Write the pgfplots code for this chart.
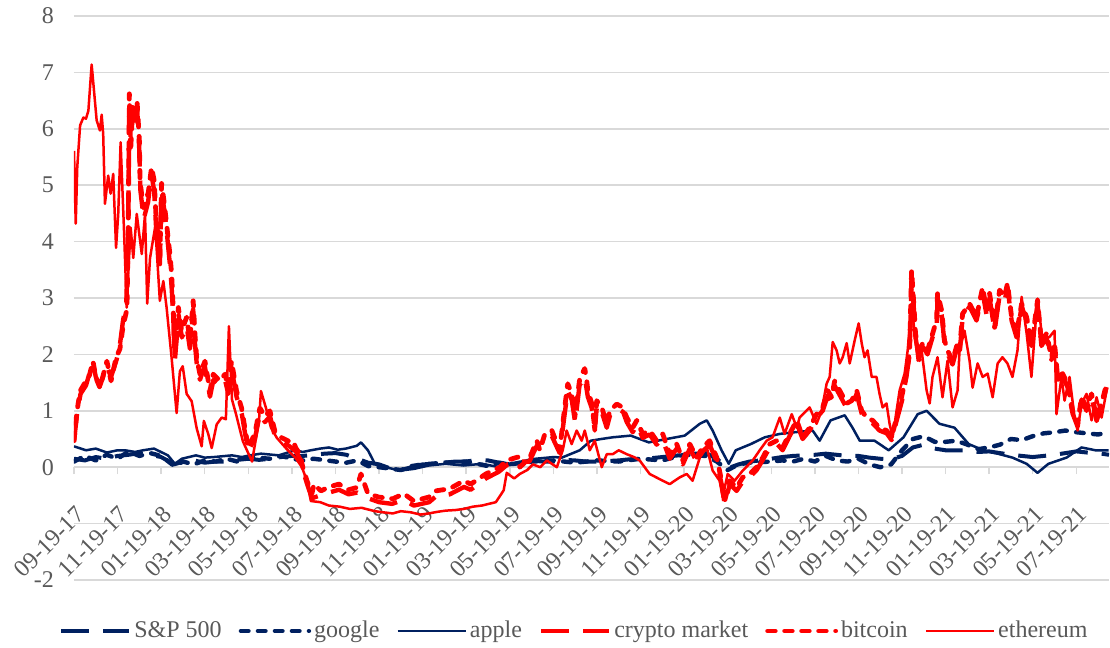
\documentclass[border=0pt]{standalone}
\usepackage{fontspec}
\setmainfont{Liberation Serif}
\usepackage{pgfplots}
\pgfplotsset{compat=1.18}
\definecolor{navy}{HTML}{002060}
\definecolor{cred}{HTML}{FF0000}
\definecolor{gridgray}{HTML}{D9D9D9}
\definecolor{txtgray}{HTML}{595959}
\begin{document}
\begin{tikzpicture}
\path[use as bounding box] (-37bp,-34bp) rectangle (518bp,290bp);
\begin{axis}[
  at={(0,0)}, anchor=south west,
  scale only axis, width=517.5bp, height=282bp,
  xmin=0, xmax=47.5, ymin=-2, ymax=8,
  axis x line*=middle, axis y line*=left,
  hide obscured x ticks=false, hide obscured y ticks=false,
  y axis line style={draw=none},
  x axis line style={draw=gridgray, line width=0.75bp},
  ytick={-2,-1,...,8}, yticklabels={-2,,0,1,2,3,4,5,6,7,8},
  ymajorgrids,
  grid style={draw=gridgray, line width=0.75bp},
  ytick style={draw=none},
  xtick={0,2,...,46},
  xticklabels={09-19-17,11-19-17,01-19-18,03-19-18,05-19-18,07-19-18,09-19-18,11-19-18,01-19-19,03-19-19,05-19-19,07-19-19,09-19-19,11-19-19,01-19-20,03-19-20,05-19-20,07-19-20,09-19-20,11-19-20,01-19-21,03-19-21,05-19-21,07-19-21},
  xtick style={draw=gridgray, line width=0.75bp},
  tick align=outside, major tick length=3.5bp,
  /pgf/number format/assume math mode=true,
  ticklabel style={font=\fontsize{12bp}{14bp}\selectfont, text=txtgray},
  xticklabel style={xshift=4bp, yshift=-17.5bp, rotate=45, anchor=east, inner sep=1bp},
  yticklabel style={xshift=-3bp},
  legend columns=6,
  legend style={draw=none, fill=none, at={(0.484,-0.0904)}, anchor=center,
    font=\fontsize{12bp}{14bp}\selectfont, text=txtgray,
    /tikz/every even column/.append style={column sep=7bp},
    nodes={inner sep=1.5bp}},
  legend image code/.code={\draw[#1] (0bp,0bp) -- (34bp,0bp);},
  every axis plot/.append style={line join=round},
]
% S&P 500
\addplot[navy, line width=2bp, dash pattern=on 14bp off 7bp] coordinates {
(0,0.15)(0.5,0.12)(1,0.18)(1.5,0.15)(2,0.2)(2.5,0.22)(3,0.25)(3.5,0.22)(4,0.18)(4.6,0.05)(5,0.1)(5.5,0.12)(6,0.08)(6.5,0.1)(7,0.1)(7.5,0.13)(8,0.15)(8.5,0.13)(9,0.15)(9.5,0.18)(10,0.2)(10.5,0.2)(11,0.22)(11.5,0.24)(12,0.25)(12.5,0.22)(13,0.15)(13.5,0.08)(14,0.05)(14.5,-0.02)(15,-0.05)(15.5,0.0)(16,0.05)(16.5,0.06)(17,0.08)(17.5,0.1)(18,0.1)(18.5,0.13)(19,0.12)(19.5,0.08)(20,0.05)(20.5,0.1)(21,0.12)(21.5,0.1)(22,0.1)(22.5,0.13)(23,0.12)(23.5,0.1)(24,0.1)(24.5,0.11)(25,0.12)(25.5,0.14)(26,0.15)(26.5,0.16)(27,0.18)(27.5,0.2)(28,0.22)(28.5,0.24)(29,0.25)(29.5,0.15)(30,-0.02)(30.5,0.05)(31,0.1)(31.5,0.12)(32,0.15)(32.5,0.18)(33,0.2)(33.5,0.21)(34,0.22)(34.5,0.24)(35,0.22)(35.5,0.2)(36,0.2)(36.5,0.17)(37,0.15)(37.5,0.14)(38,0.2)(38.5,0.35)(39,0.4)(39.5,0.33)(40,0.3)(40.5,0.3)(41,0.3)(41.5,0.27)(42,0.28)(42.5,0.25)(43,0.22)(43.5,0.2)(44,0.18)(44.5,0.2)(45,0.22)(45.5,0.25)(46,0.28)(46.5,0.26)(47,0.25)(47.5,0.22)};
\addlegendentry{S\&P 500}
% google
\addplot[navy, line width=2.2bp, line cap=round, dash pattern=on 3.8bp off 4.7bp] coordinates {
(0,0.1)(0.5,0.2)(1,0.12)(1.5,0.22)(2,0.15)(2.5,0.28)(3,0.2)(3.5,0.25)(4,0.2)(4.6,0.02)(5,0.1)(5.5,0.05)(6,0.12)(6.5,0.1)(7,0.15)(7.5,0.1)(8,0.18)(9,0.15)(9.5,0.2)(10,0.15)(10.5,0.12)(11,0.15)(12,0.1)(12.5,0.08)(13,0.12)(13.5,0.02)(14,0.0)(15,-0.05)(15.5,0.02)(16,0.05)(17,0.08)(18,0.1)(19,0.02)(19.5,0.08)(20,0.05)(21,0.1)(22,0.12)(23,0.08)(24,0.12)(25,0.1)(26,0.15)(27,0.12)(28,0.22)(29,0.2)(29.5,0.1)(30,-0.05)(30.5,0.05)(31,0.08)(32,0.1)(32.5,0.12)(33,0.1)(33.5,0.15)(34,0.1)(34.5,0.2)(35,0.12)(35.5,0.1)(36,0.15)(36.5,0.05)(37,0.0)(37.5,0.05)(38,0.3)(38.5,0.5)(39,0.55)(39.5,0.45)(40,0.45)(40.5,0.47)(41,0.4)(41.5,0.32)(42,0.35)(42.5,0.4)(43,0.5)(43.5,0.48)(44,0.55)(44.5,0.6)(45,0.62)(45.5,0.65)(46,0.62)(46.5,0.6)(47,0.58)(47.5,0.62)};
\addlegendentry{google}
% apple
\addplot[navy, line width=1.25bp] coordinates {
(0,0.37)(0.55,0.3)(1.0,0.33)(1.51,0.26)(2.0,0.3)(2.34,0.3)(2.8,0.27)(3.17,0.3)(3.67,0.33)(4.31,0.21)(4.63,0.06)(4.95,0.15)(5.6,0.21)(6.0,0.17)(6.42,0.18)(7.25,0.21)(7.7,0.18)(8.07,0.21)(8.58,0.24)(9.4,0.21)(10.14,0.3)(10.5,0.27)(10.87,0.3)(11.3,0.33)(11.7,0.35)(12.1,0.31)(12.48,0.33)(12.98,0.38)(13.17,0.44)(13.49,0.3)(13.81,0.06)(14.31,0.0)(14.95,-0.06)(15.6,-0.03)(16.28,0.03)(17.06,0.06)(17.89,0.03)(18.72,0.06)(19.54,0.0)(20.37,0.09)(21.19,0.15)(22.02,0.18)(22.39,0.17)(23.21,0.3)(23.72,0.47)(24.2,0.5)(24.72,0.53)(25.55,0.56)(26.38,0.44)(27.2,0.5)(28.03,0.56)(28.72,0.77)(29.04,0.83)(29.31,0.65)(29.72,0.3)(30.05,0.06)(30.37,0.3)(31.06,0.41)(31.7,0.53)(32.39,0.59)(33.07,0.62)(33.9,0.65)(34.22,0.47)(34.72,0.83)(35.37,0.92)(35.73,0.7)(36.06,0.47)(36.74,0.47)(37.39,0.3)(38.07,0.53)(38.72,0.94)(39.13,1.0)(39.72,0.77)(40.41,0.7)(41.06,0.41)(41.74,0.3)(42.39,0.24)(43.07,0.17)(43.72,0.06)(44.22,-0.1)(44.72,0.06)(45.55,0.17)(46.24,0.35)(46.88,0.3)(47.48,0.3)};
\addlegendentry{apple}
% crypto market
\addplot[cred, line width=2.2bp, dash pattern=on 14bp off 7bp] coordinates {
(0.0,0.45)(0.14,0.95)(0.3,1.3)(0.55,1.45)(0.7,1.65)(0.9,1.8)(1.0,1.6)(1.2,1.45)(1.5,1.8)(1.7,1.6)(1.95,1.9)(2.1,2.15)(2.25,2.6)(2.4,2.9)(2.48,4.0)(2.54,6.5)(2.6,5.8)(2.7,6.3)(2.8,6.0)(2.9,6.35)(3.0,5.6)(3.05,4.9)(3.2,4.4)(3.4,4.7)(3.55,5.2)(3.68,4.9)(3.76,4.3)(3.94,3.6)(4.02,4.9)(4.13,4.6)(4.25,4.2)(4.4,3.6)(4.48,3.2)(4.55,2.7)(4.63,1.9)(4.8,2.7)(4.95,2.3)(5.17,2.5)(5.32,2.1)(5.47,2.8)(5.55,2.2)(5.63,1.85)(5.78,1.55)(6.0,1.8)(6.24,1.25)(6.4,1.55)(6.7,1.45)(6.93,1.55)(7.08,1.3)(7.23,1.75)(7.46,1.25)(7.7,0.95)(7.85,0.6)(8.0,0.3)(8.3,0.5)(8.53,0.95)(8.76,0.8)(9.0,0.9)(9.22,0.55)(9.55,0.45)(9.86,0.38)(10.18,0.28)(10.37,0.15)(10.5,-0.05)(10.7,-0.3)(10.92,-0.55)(11.3,-0.5)(11.7,-0.45)(12.16,-0.4)(12.6,-0.48)(13.0,-0.45)(13.5,-0.55)(14.0,-0.62)(14.6,-0.65)(15.1,-0.58)(15.6,-0.68)(16.3,-0.62)(16.6,-0.52)(17.25,-0.48)(17.9,-0.35)(18.2,-0.4)(18.9,-0.2)(19.5,-0.08)(19.9,0.05)(20.4,0.1)(20.9,0.1)(21.24,0.38)(21.6,0.5)(21.93,0.55)(22.29,0.25)(22.52,0.95)(22.66,1.35)(22.84,1.2)(23.0,0.8)(23.2,1.45)(23.44,1.6)(23.58,1.25)(23.76,1.05)(23.9,0.65)(24.0,1.1)(24.22,0.98)(24.45,0.7)(24.6,0.92)(24.91,1.05)(25.2,0.98)(25.37,0.8)(25.64,0.62)(25.83,0.75)(26.1,0.52)(26.42,0.58)(26.74,0.4)(27.0,0.5)(27.34,0.15)(27.66,0.33)(27.94,0.05)(28.26,0.33)(28.58,0.1)(28.85,0.28)(29.17,0.4)(29.5,0.1)(29.72,-0.3)(29.86,-0.65)(30.1,-0.3)(30.41,-0.42)(30.7,-0.25)(31.0,-0.18)(31.33,-0.05)(31.6,0.12)(31.93,0.35)(32.25,0.42)(32.52,0.3)(32.84,0.55)(33.17,0.78)(33.44,0.5)(33.76,0.65)(34.08,0.88)(34.36,1.0)(34.6,1.28)(34.77,1.15)(34.9,1.45)(35.14,1.28)(35.46,1.05)(35.7,1.1)(35.92,1.3)(36.15,0.95)(36.4,0.82)(36.65,0.78)(36.97,0.65)(37.3,0.6)(37.52,0.48)(37.75,0.82)(38.0,1.18)(38.2,1.6)(38.35,2.0)(38.44,3.4)(38.53,2.9)(38.62,2.3)(38.8,1.9)(38.94,2.15)(39.17,2.0)(39.36,2.25)(39.6,2.55)(39.63,3.0)(39.82,2.7)(39.95,2.2)(40.1,2.0)(40.32,1.82)(40.55,2.15)(40.64,2.0)(40.78,2.65)(41.1,2.85)(41.42,2.6)(41.7,3.1)(41.88,2.7)(42.02,3.0)(42.25,2.42)(42.48,3.05)(42.71,2.95)(42.84,3.2)(43.03,2.6)(43.26,2.3)(43.49,2.85)(43.72,2.6)(43.94,2.15)(44.08,2.5)(44.22,2.9)(44.4,2.15)(44.63,2.3)(44.86,1.9)(45.0,2.15)(45.14,1.55)(45.37,1.6)(45.6,1.42)(45.83,0.95)(46.06,0.72)(46.24,1.2)(46.47,1.0)(46.7,1.25)(46.93,0.82)(47.16,1.08)(47.39,1.42)};
\addlegendentry{crypto market}
% bitcoin
\addplot[cred, line width=2.4bp, line cap=round, dash pattern=on 3.8bp off 4.7bp] coordinates {
(0.0,0.47)(0.14,1.0)(0.28,1.35)(0.55,1.53)(0.69,1.6)(0.87,1.88)(1.01,1.58)(1.19,1.41)(1.51,1.88)(1.70,1.53)(1.93,1.94)(2.11,2.1)(2.25,2.5)(2.43,2.8)(2.49,4.25)(2.54,6.62)(2.60,5.6)(2.69,6.38)(2.80,6.15)(2.90,6.45)(3.00,5.79)(3.03,5.08)(3.18,4.6)(3.41,4.87)(3.56,5.32)(3.68,5.08)(3.76,4.49)(3.94,3.72)(4.02,5.03)(4.13,4.72)(4.25,4.31)(4.40,3.78)(4.48,3.43)(4.55,2.83)(4.63,2.0)(4.79,2.83)(4.94,2.42)(5.17,2.66)(5.32,2.25)(5.47,2.95)(5.55,2.36)(5.63,1.94)(5.78,1.65)(6.01,1.88)(6.24,1.35)(6.39,1.65)(6.70,1.53)(6.93,1.65)(7.08,1.41)(7.23,1.88)(7.46,1.35)(7.69,1.05)(7.84,0.7)(8.00,0.34)(8.30,0.6)(8.53,1.05)(8.76,0.9)(8.99,1.0)(9.22,0.64)(9.54,0.52)(9.86,0.46)(10.05,0.47)(10.18,0.34)(10.37,0.23)(10.50,0.0)(10.69,-0.24)(10.92,-0.47)(11.01,-0.3)(11.33,-0.42)(11.7,-0.35)(12.16,-0.3)(12.6,-0.4)(12.98,-0.36)(13.17,-0.12)(13.49,-0.47)(13.99,-0.53)(14.63,-0.56)(15.14,-0.47)(15.60,-0.6)(16.28,-0.53)(16.61,-0.42)(17.25,-0.38)(17.89,-0.24)(18.21,-0.3)(18.90,-0.12)(19.54,0.0)(19.86,0.12)(20.37,0.18)(20.46,0.0)(20.92,0.17)(21.24,0.47)(21.38,0.3)(21.61,0.59)(21.93,0.65)(22.29,0.3)(22.52,1.06)(22.66,1.48)(22.84,1.3)(22.98,0.88)(23.21,1.57)(23.44,1.75)(23.53,1.54)(23.58,1.36)(23.76,1.13)(23.90,0.7)(23.99,1.18)(24.22,1.06)(24.45,0.77)(24.59,1.0)(24.91,1.12)(25.18,1.06)(25.37,0.88)(25.64,0.7)(25.83,0.83)(26.10,0.59)(26.42,0.65)(26.74,0.47)(27.02,0.59)(27.34,0.23)(27.66,0.41)(27.94,0.12)(28.26,0.41)(28.58,0.17)(28.85,0.35)(29.17,0.47)(29.50,0.17)(29.72,-0.24)(29.86,-0.6)(30.09,-0.24)(30.41,-0.36)(30.69,-0.18)(31.01,-0.12)(31.33,0.0)(31.61,0.17)(31.93,0.41)(32.25,0.47)(32.52,0.35)(32.84,0.59)(33.17,0.83)(33.44,0.53)(33.76,0.7)(34.08,0.94)(34.36,1.06)(34.59,1.36)(34.77,1.24)(34.91,1.53)(35.14,1.36)(35.46,1.13)(35.69,1.18)(35.92,1.36)(36.15,1.0)(36.38,0.88)(36.65,0.83)(36.97,0.7)(37.29,0.65)(37.52,0.53)(37.75,0.88)(37.98,1.24)(38.21,1.66)(38.35,2.07)(38.44,3.49)(38.53,2.96)(38.62,2.37)(38.81,1.95)(38.94,2.2)(39.17,2.07)(39.36,2.31)(39.59,2.61)(39.63,3.08)(39.82,2.78)(39.95,2.25)(40.09,2.07)(40.32,1.89)(40.55,2.2)(40.64,2.07)(40.78,2.72)(41.10,2.9)(41.42,2.66)(41.70,3.19)(41.88,2.78)(42.02,3.08)(42.25,2.48)(42.48,3.14)(42.71,3.02)(42.84,3.26)(43.03,2.66)(43.26,2.37)(43.49,2.9)(43.72,2.66)(43.94,2.2)(44.08,2.55)(44.22,2.96)(44.40,2.2)(44.63,2.37)(44.86,1.95)(45.00,2.2)(45.14,1.6)(45.37,1.66)(45.60,1.48)(45.83,1.0)(46.06,0.77)(46.24,1.24)(46.47,1.06)(46.70,1.3)(46.93,0.88)(47.16,1.13)(47.39,1.48)};
\addlegendentry{bitcoin}
% ethereum
\addplot[cred, line width=1.25bp] coordinates {
(0.0,5.61)(0.08,4.32)(0.15,5.32)(0.28,6.06)(0.43,6.2)(0.55,6.18)(0.66,6.32)(0.81,7.14)(1.04,6.15)(1.19,5.97)(1.27,6.25)(1.34,5.91)(1.42,4.67)(1.57,5.17)(1.68,4.85)(1.80,5.2)(1.93,3.89)(2.03,4.49)(2.14,5.76)(2.29,4.25)(2.42,2.83)(2.49,3.43)(2.60,4.25)(2.72,3.71)(2.88,4.49)(3.11,3.78)(3.26,4.49)(3.36,2.9)(3.49,3.71)(3.72,4.25)(3.79,3.89)(3.94,2.95)(4.10,3.3)(4.25,2.83)(4.48,1.94)(4.71,0.96)(4.86,1.7)(4.99,1.79)(5.17,1.3)(5.40,1.17)(5.63,0.69)(5.86,0.37)(5.96,0.82)(6.16,0.59)(6.32,0.34)(6.55,0.76)(6.78,0.88)(6.97,0.85)(7.11,2.5)(7.25,1.2)(7.43,0.95)(7.75,0.46)(8.17,0.1)(8.49,0.82)(8.58,1.35)(8.81,1.05)(9.04,0.7)(9.31,0.52)(9.72,0.34)(10.18,0.16)(10.46,0.0)(10.69,-0.24)(10.87,-0.6)(11.3,-0.62)(11.70,-0.68)(12.2,-0.7)(12.66,-0.74)(13.2,-0.72)(13.81,-0.78)(14.2,-0.8)(14.63,-0.82)(15.0,-0.78)(15.46,-0.8)(15.9,-0.84)(16.28,-0.82)(16.7,-0.79)(17.06,-0.77)(17.5,-0.76)(17.89,-0.74)(18.3,-0.7)(18.72,-0.68)(19.36,-0.62)(19.72,-0.41)(19.86,-0.1)(20.2,-0.2)(20.46,-0.12)(20.8,-0.05)(21.06,0.05)(21.4,0.0)(21.70,0.12)(22.16,0.0)(22.43,0.3)(22.61,0.65)(22.84,0.41)(23.07,0.65)(23.30,0.47)(23.44,0.65)(23.67,0.3)(23.90,0.47)(24.22,0.0)(24.45,0.23)(24.72,0.23)(25.0,0.3)(25.37,0.23)(25.7,0.18)(25.96,0.12)(26.42,-0.12)(27.02,-0.24)(27.34,-0.3)(27.80,-0.18)(28.12,-0.12)(28.39,-0.24)(28.72,0.17)(29.04,0.35)(29.31,-0.06)(29.63,-0.24)(29.77,-0.53)(30.00,-0.12)(30.32,-0.24)(30.69,-0.06)(31.15,0.12)(31.47,0.3)(31.79,0.47)(32.06,0.53)(32.39,0.88)(32.61,0.59)(32.94,0.94)(33.17,0.7)(33.30,0.88)(33.76,1.06)(34.08,0.77)(34.31,1.0)(34.54,1.48)(34.68,1.6)(34.82,2.22)(35.00,2.07)(35.14,1.84)(35.28,1.95)(35.46,2.2)(35.60,1.84)(35.83,2.25)(36.01,2.55)(36.15,2.2)(36.28,1.95)(36.42,2.07)(36.61,1.6)(36.83,1.6)(36.97,1.3)(37.11,1.06)(37.29,1.13)(37.43,0.77)(37.57,0.53)(37.75,1.0)(37.89,1.36)(38.12,1.66)(38.26,2.07)(38.44,2.9)(38.58,2.37)(38.72,1.89)(38.90,2.07)(39.13,1.36)(39.27,1.13)(39.40,1.6)(39.63,1.95)(39.86,1.24)(40.09,1.89)(40.32,1.06)(40.55,1.36)(40.64,2.07)(40.87,2.42)(41.10,1.89)(41.24,1.41)(41.47,1.84)(41.70,1.6)(41.93,1.66)(42.16,1.24)(42.39,1.84)(42.61,1.95)(42.84,1.84)(43.07,1.6)(43.30,2.07)(43.49,3.02)(43.72,2.37)(43.94,1.6)(44.08,2.31)(44.22,2.99)(44.45,2.25)(44.77,2.31)(45.00,2.42)(45.09,0.94)(45.32,1.6)(45.46,1.18)(45.69,1.6)(45.92,0.88)(46.06,0.65)(46.24,1.13)(46.47,1.3)(46.70,0.83)(46.93,1.24)(47.16,0.88)(47.39,1.36)};
\addlegendentry{ethereum}
\end{axis}
\end{tikzpicture}
\end{document}
